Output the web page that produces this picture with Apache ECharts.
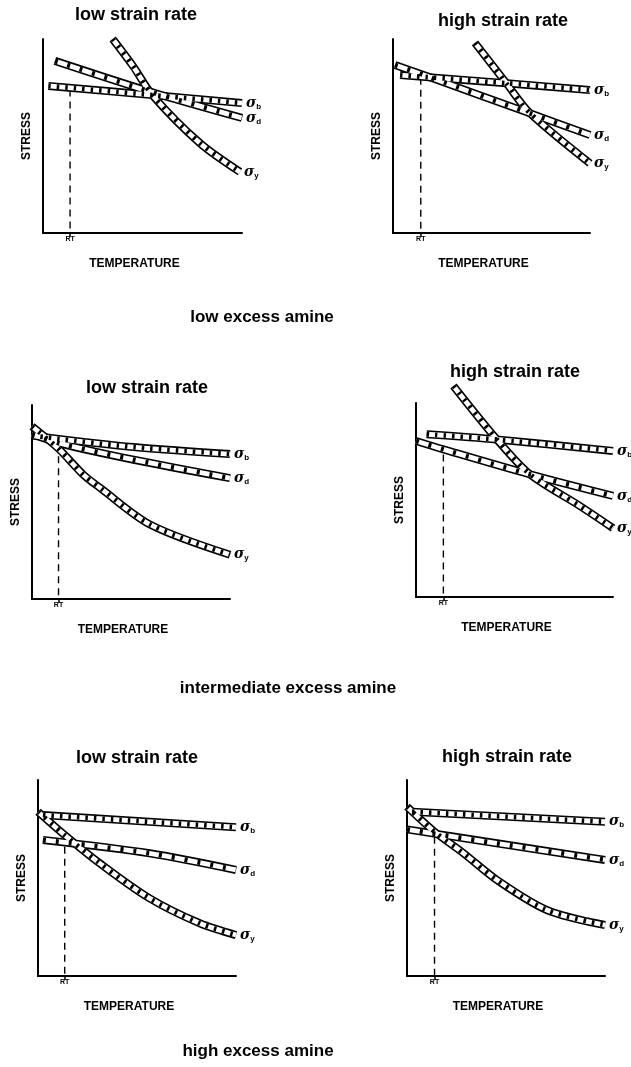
<!DOCTYPE html>
<html>
<head>
<meta charset="utf-8">
<script src="https://cdn.jsdelivr.net/npm/echarts@6/dist/echarts.min.js"></script>
<style>
  html, body { margin: 0; padding: 0; background: #fff; }
  #chart { width: 631px; height: 1067px; }
</style>
</head>
<body>
<div id="chart"></div>
<script>
// Schematic stress-temperature bands, [temperature, stress] on 0..100 scales.
// Low excess amine
const lowAmineLowRateB  = [[2.7, 75.8], [55, 71.1], [100, 67]];
const lowAmineLowRateD  = [[6, 88.7], [55, 72.5], [100, 59.3]];
const lowAmineLowRateY  = [[35, 100], [45.4, 85.8], [55, 71], [79, 46.2], [99, 31.5]];
const lowAmineHighRateB = [[3.6, 81.4], [57.7, 77.2], [100, 73.7]];
const lowAmineHighRateD = [[1, 86.6], [17, 80.9], [69.5, 61.7], [100, 50.5]];
const lowAmineHighRateY = [[41.6, 98], [57.7, 77], [69.5, 61.8], [100, 35.9]];
// Intermediate excess amine
const midAmineLowRateB  = [[0, 84.2], [51.3, 78.3], [100, 74.7]];
const midAmineLowRateD  = [[0, 85], [13.4, 80.4], [51.3, 71.8], [100, 62.3]];
const midAmineLowRateY  = [[0, 89], [13.4, 77.5], [26, 64], [34.5, 57.2], [59.8, 38.3], [100, 22.8]];
const midAmineHighRateB = [[5.4, 83.9], [41, 81.2], [100, 75.3]];
const midAmineHighRateD = [[0, 80.4], [13.9, 76.1], [57.9, 63.2], [100, 52.1]];
const midAmineHighRateY = [[19, 108.8], [41, 81.3], [57.9, 63.2], [83.2, 46.9], [100, 35.5]];
// High excess amine
const highAmineLowRateB  = [[2.5, 82.1], [100, 75.9]];
const highAmineLowRateD  = [[2.5, 69.4], [56.4, 62.6], [100, 54.1]];
const highAmineLowRateY  = [[0, 83.8], [13.5, 71.9], [31.2, 57.5], [56.4, 39.6], [81.7, 26.9], [100, 20.9]];
const highAmineHighRateB = [[2.5, 83.8], [100, 78.7]];
const highAmineHighRateD = [[0, 74.8], [45.4, 67.7], [100, 59.2]];
const highAmineHighRateY = [[0, 86.4], [13.9, 73.6], [28.6, 62.6], [45.4, 49], [70.6, 33.7], [100, 26]];

// Room temperature marker: position on the temperature axis and height of the dashed drop line
const rtTemperature = [13.6, 14.1, 13.4, 13.9, 13.5, 13.9];
const rtStress      = [74, 80, 73.6, 73.5, 66, 71];

const panelTitles = ['low strain rate', 'high strain rate', 'low strain rate', 'high strain rate', 'low strain rate', 'high strain rate'];
const groupTitles = ['low excess amine', 'intermediate excess amine', 'high excess amine'];
const bandLabels = ['b', 'd', 'y'];
const xAxisName = 'TEMPERATURE';
const yAxisName = 'STRESS';
const rtLabel = 'RT';

const panelBands = [
  [lowAmineLowRateB, lowAmineLowRateD, lowAmineLowRateY],
  [lowAmineHighRateB, lowAmineHighRateD, lowAmineHighRateY],
  [midAmineLowRateB, midAmineLowRateD, midAmineLowRateY],
  [midAmineHighRateB, midAmineHighRateD, midAmineHighRateY],
  [highAmineLowRateB, highAmineLowRateD, highAmineLowRateY],
  [highAmineHighRateB, highAmineHighRateD, highAmineHighRateY]
];

// Plot area of each panel (pixels)
const gridBoxes = [
  { left: 43,  top: 39,  width: 199, height: 194 },
  { left: 393, top: 39,  width: 197, height: 194 },
  { left: 32,  top: 405, width: 198, height: 194 },
  { left: 416, top: 403, width: 197, height: 194 },
  { left: 38,  top: 780, width: 198, height: 196 },
  { left: 407, top: 780, width: 198, height: 196 }
];
const panelTitlePos = [[136, 15], [503, 21], [147, 388], [515, 372], [137, 758], [507, 757]];
const groupTitlePos = [[262, 317], [288, 688], [258, 1051]];

const FONT = '"Liberation Sans", Arial, sans-serif';
const INK = '#000';

// A hatched band: black outline, white core, short black strokes across the core
function band(gi, data, sub, dash) {
  const common = {
    type: 'line', xAxisIndex: gi, yAxisIndex: gi, data: data,
    smooth: data.length > 2 ? 0.3 : false,
    showSymbol: false, symbol: 'none',
    clip: false, silent: true, animation: false
  };
  return [
    Object.assign({}, common, { lineStyle: { color: INK, width: 8, cap: 'butt' }, z: 2 }),
    Object.assign({}, common, { lineStyle: { color: '#fff', width: 4.8, cap: 'butt' }, z: 3 }),
    Object.assign({}, common, {
      lineStyle: { color: INK, width: 4.8, type: dash, cap: 'butt' }, z: 4,
      endLabel: {
        show: true, distance: 4,
        formatter: () => '{s|σ}{t|' + sub + '}',
        rich: {
          s: { fontFamily: '"DejaVu Serif", serif', fontStyle: 'italic', fontWeight: 'bold', fontSize: 14, color: INK },
          t: { fontFamily: FONT, fontWeight: 'bold', fontSize: 8, color: INK, padding: [7, 0, 0, 0] }
        }
      }
    })
  ];
}

const grid = [], xAxis = [], yAxis = [], series = [], graphic = [];

gridBoxes.forEach((box, gi) => {
  grid.push(Object.assign({ containLabel: false }, box));
  xAxis.push({
    type: 'value', gridIndex: gi, min: 0, max: 100,
    name: xAxisName, nameLocation: 'middle', nameGap: 25,
    nameTextStyle: { fontFamily: FONT, fontWeight: 'bold', fontSize: 12, color: INK, padding: [0, 16, 0, 0] },
    axisLine: { show: true, onZero: false, lineStyle: { color: INK, width: 2 } },
    axisTick: { show: true, customValues: [rtTemperature[gi]], length: 4, lineStyle: { color: INK, width: 1.5 } },
    axisLabel: {
      show: true, customValues: [rtTemperature[gi]], formatter: () => rtLabel, margin: 3,
      fontFamily: FONT, fontWeight: 'bold', fontSize: 7, color: INK
    },
    splitLine: { show: false }
  });
  yAxis.push({
    type: 'value', gridIndex: gi, min: 0, max: 100,
    name: yAxisName, nameLocation: 'middle', nameGap: 10, nameRotate: 90,
    nameTextStyle: { fontFamily: FONT, fontWeight: 'bold', fontSize: 12, color: INK },
    axisLine: { show: true, onZero: false, lineStyle: { color: INK, width: 2 } },
    axisTick: { show: false }, axisLabel: { show: false }, splitLine: { show: false }
  });

  // dashed room-temperature drop line
  series.push({
    type: 'line', xAxisIndex: gi, yAxisIndex: gi, silent: true, animation: false,
    data: [[rtTemperature[gi], rtStress[gi]], [rtTemperature[gi], 0]],
    showSymbol: false, symbol: 'none', z: 1,
    lineStyle: { color: INK, width: 1.4, type: [7, 5] }
  });

  const dashes = [[2.5, 6], [3, 10], [2.5, 6]];
  panelBands[gi].forEach((data, bi) => {
    series.push(...band(gi, data, bandLabels[bi], dashes[bi]));
  });

  graphic.push({
    type: 'text', x: panelTitlePos[gi][0], y: panelTitlePos[gi][1],
    style: { text: panelTitles[gi], font: 'bold 18px ' + FONT, fill: INK, align: 'center', verticalAlign: 'middle' }
  });
});

groupTitles.forEach((t, i) => {
  graphic.push({
    type: 'text', x: groupTitlePos[i][0], y: groupTitlePos[i][1],
    style: { text: t, font: 'bold 17px ' + FONT, fill: INK, align: 'center', verticalAlign: 'middle' }
  });
});

const chart = echarts.init(document.getElementById('chart'), null, { renderer: 'canvas' });
chart.setOption({
  backgroundColor: '#fff',
  animation: false,
  grid, xAxis, yAxis, series, graphic
});
</script>
</body>
</html>
